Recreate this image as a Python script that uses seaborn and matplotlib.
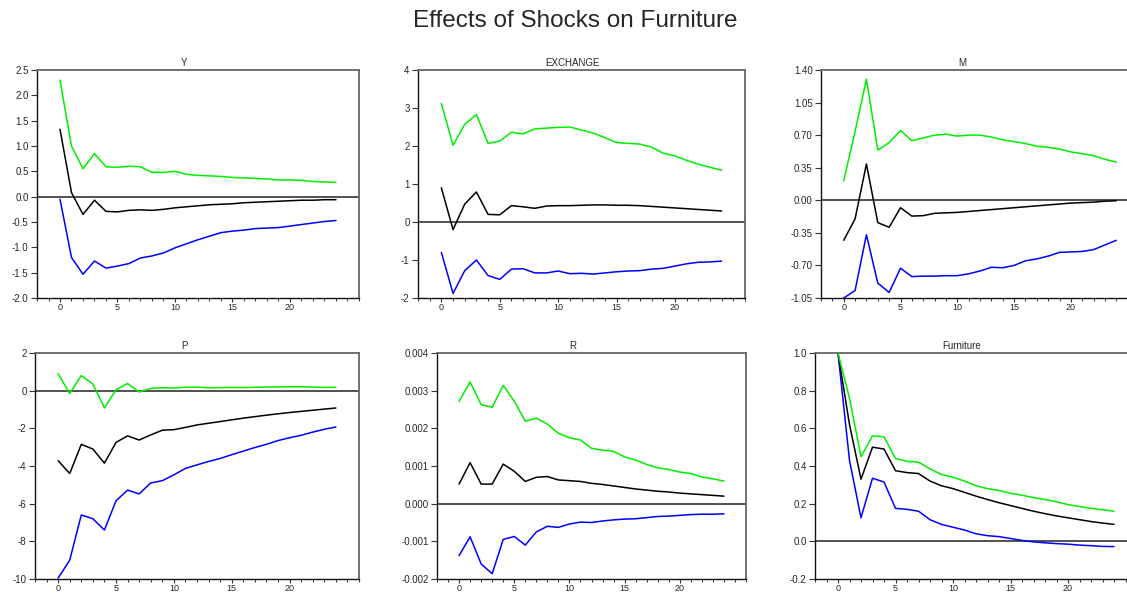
"""
Impulse responses of furniture to shocks, with lower / upper bands.
Writes out.png.
"""
import numpy as np
import pandas as pd
import matplotlib
matplotlib.use("Agg")
import matplotlib.pyplot as plt
from matplotlib.ticker import FuncFormatter, MultipleLocator
import seaborn as sns

STEPS = list(range(25))

Y_UPPER = [2.30, 1.00, 0.55, 0.85, 0.59, 0.58, 0.60, 0.59, 0.48, 0.48, 0.50, 0.44, 0.42,
           0.41, 0.40, 0.38, 0.37, 0.36, 0.35, 0.33, 0.33, 0.32, 0.30, 0.29, 0.28]
Y_MID = [1.33, 0.08, -0.35, -0.07, -0.29, -0.30, -0.27, -0.26, -0.27, -0.25, -0.22, -0.20, -0.18,
         -0.16, -0.15, -0.14, -0.12, -0.11, -0.10, -0.09, -0.08, -0.07, -0.07, -0.06, -0.06]
Y_LOWER = [-0.05, -1.20, -1.53, -1.27, -1.41, -1.37, -1.32, -1.21, -1.17, -1.11, -1.01, -0.93, -0.85,
           -0.78, -0.71, -0.68, -0.66, -0.63, -0.62, -0.61, -0.58, -0.55, -0.52, -0.49, -0.47]

EX_UPPER = [3.12, 2.02, 2.57, 2.83, 2.07, 2.13, 2.36, 2.32, 2.45, 2.47, 2.49, 2.50, 2.42,
            2.34, 2.22, 2.09, 2.07, 2.05, 1.97, 1.81, 1.74, 1.62, 1.52, 1.44, 1.36]
EX_MID = [0.90, -0.20, 0.47, 0.79, 0.20, 0.19, 0.43, 0.40, 0.36, 0.42, 0.43, 0.43, 0.44,
          0.45, 0.45, 0.44, 0.44, 0.43, 0.41, 0.39, 0.37, 0.35, 0.33, 0.31, 0.29]
EX_LOWER = [-0.80, -1.88, -1.28, -1.00, -1.41, -1.51, -1.24, -1.23, -1.34, -1.34, -1.29, -1.36, -1.35,
            -1.37, -1.34, -1.31, -1.29, -1.28, -1.24, -1.22, -1.16, -1.10, -1.06, -1.05, -1.03]

M_UPPER = [0.21, 0.74, 1.30, 0.54, 0.62, 0.75, 0.64, 0.67, 0.70, 0.71, 0.69, 0.70, 0.70,
           0.68, 0.65, 0.63, 0.61, 0.58, 0.57, 0.55, 0.52, 0.50, 0.48, 0.44, 0.41]
M_MID = [-0.43, -0.20, 0.39, -0.24, -0.29, -0.08, -0.17, -0.165, -0.14, -0.135, -0.13, -0.12, -0.11,
         -0.10, -0.09, -0.08, -0.07, -0.06, -0.05, -0.04, -0.03, -0.025, -0.02, -0.01, -0.005]
M_LOWER = [-1.05, -0.97, -0.37, -0.89, -0.99, -0.73, -0.82, -0.815, -0.815, -0.81, -0.81, -0.79, -0.76,
           -0.72, -0.725, -0.70, -0.65, -0.63, -0.60, -0.56, -0.555, -0.55, -0.53, -0.48, -0.43]

P_UPPER = [0.90, -0.15, 0.80, 0.35, -0.92, 0.05, 0.38, -0.07, 0.12, 0.16, 0.14, 0.18, 0.19,
           0.15, 0.16, 0.17, 0.16, 0.18, 0.19, 0.20, 0.21, 0.21, 0.19, 0.17, 0.18]
P_MID = [-3.72, -4.40, -2.85, -3.10, -3.85, -2.75, -2.40, -2.62, -2.35, -2.10, -2.07, -1.95, -1.82,
         -1.73, -1.64, -1.55, -1.46, -1.38, -1.30, -1.23, -1.16, -1.10, -1.04, -0.98, -0.92]
P_LOWER = [-9.95, -9.00, -6.60, -6.80, -7.40, -5.85, -5.28, -5.48, -4.90, -4.78, -4.47, -4.13, -3.94,
           -3.76, -3.60, -3.40, -3.21, -3.02, -2.85, -2.65, -2.50, -2.37, -2.20, -2.05, -1.93]

R_UPPER = [0.00272, 0.00323, 0.00263, 0.00256, 0.00314, 0.00272, 0.00219, 0.00227, 0.00211,
           0.00187, 0.00175, 0.00169, 0.00147, 0.00142, 0.00139, 0.00124, 0.00116, 0.00104,
           0.00095, 0.00091, 0.00084, 0.00080, 0.00071, 0.00066, 0.00060]
R_MID = [0.00052, 0.00109, 0.00052, 0.00052, 0.00105, 0.00086, 0.00059, 0.00070, 0.00072,
         0.00063, 0.00061, 0.00059, 0.00054, 0.00051, 0.00047, 0.00043, 0.00039, 0.00036,
         0.00033, 0.00031, 0.00028, 0.00026, 0.00024, 0.00022, 0.00020]
R_LOWER = [-0.00138, -0.00088, -0.00160, -0.00186, -0.00095, -0.00087, -0.00110, -0.00075, -0.00060,
           -0.00063, -0.00054, -0.00049, -0.00050, -0.00046, -0.00043, -0.00041, -0.00040, -0.00037,
           -0.00034, -0.00033, -0.00031, -0.00029, -0.00028, -0.00028, -0.00027]

F_UPPER = [1.00, 0.76, 0.45, 0.56, 0.555, 0.44, 0.425, 0.42, 0.385, 0.355, 0.34, 0.32, 0.295,
           0.28, 0.27, 0.255, 0.245, 0.232, 0.222, 0.21, 0.195, 0.185, 0.175, 0.168, 0.16]
F_MID = [1.00, 0.62, 0.33, 0.50, 0.49, 0.375, 0.365, 0.36, 0.32, 0.295, 0.28, 0.26, 0.24,
         0.222, 0.205, 0.19, 0.175, 0.16, 0.147, 0.135, 0.125, 0.115, 0.105, 0.097, 0.09]
F_LOWER = [1.00, 0.43, 0.125, 0.335, 0.315, 0.175, 0.17, 0.16, 0.115, 0.09, 0.075, 0.06, 0.04,
           0.03, 0.025, 0.015, 0.005, -0.003, -0.008, -0.012, -0.015, -0.02, -0.023, -0.027, -0.028]

PANEL_NAMES = ["Y", "EXCHANGE", "M", "P", "R", "Furniture"]

FIG_W, FIG_H = 1127, 594

# name -> (series, (left, right, top, bottom) px, yticks, decimals, title x px)
PANELS = {
    "Y": ((Y_LOWER, Y_MID, Y_UPPER), (37, 359, 70, 298),
          np.arange(-2.0, 2.51, 0.5), 1, 184),
    "EXCHANGE": ((EX_LOWER, EX_MID, EX_UPPER), (418, 745, 70, 298),
                 np.arange(-2, 5, 1), 0, 573),
    "M": ((M_LOWER, M_MID, M_UPPER), (821, 1139, 70, 298),
          np.arange(-1.05, 1.41, 0.35), 2, 962),
    "P": ((P_LOWER, P_MID, P_UPPER), (35, 359, 353, 579),
          np.arange(-10, 3, 2), 0, 184),
    "R": ((R_LOWER, R_MID, R_UPPER), (437, 746, 353, 579),
          np.arange(-0.002, 0.00401, 0.001), 3, 573),
    "Furniture": ((F_LOWER, F_MID, F_UPPER), (815, 1137, 353, 579),
                  np.arange(-0.2, 1.01, 0.2), 1, 962),
}

COLORS = {"lower": "#0000ff", "mid": "#000000", "upper": "#00ee00"}


def tick_fmt(decimals):
    def f(v, _pos):
        v = round(v, decimals) + 0.0
        return f"{v:.{decimals}f}"
    return FuncFormatter(f)


sns.set_style("white")
plt.rcParams["font.family"] = ["Liberation Sans", "DejaVu Sans"]

fig = plt.figure(figsize=(FIG_W / 100, FIG_H / 100), dpi=100)

for name in PANEL_NAMES:
    series, (l, r, t, b), yticks, dec, tx = PANELS[name]
    ax = fig.add_axes([l / FIG_W, 1 - b / FIG_H, (r - l) / FIG_W, (b - t) / FIG_H])
    df = pd.DataFrame({
        "step": STEPS * 3,
        "value": list(series[0]) + list(series[1]) + list(series[2]),
        "band": ["lower"] * 25 + ["mid"] * 25 + ["upper"] * 25,
    })
    ax.axhline(0, color="#222222", lw=1.1, zorder=1)
    sns.lineplot(data=df, x="step", y="value", hue="band", palette=COLORS,
                 legend=False, lw=1.1, ax=ax, zorder=3)
    yticks = np.round(yticks, 6)
    ax.set_xlim(-2, 26)
    ax.set_ylim(yticks[0], yticks[-1])
    ax.set_yticks(yticks)
    ax.yaxis.set_major_formatter(tick_fmt(dec))
    ax.set_xticks([0, 5, 10, 15, 20])
    ax.xaxis.set_minor_locator(MultipleLocator(1))
    ax.set_xlabel("")
    ax.set_ylabel("")
    ax.tick_params(axis="y", which="major", direction="out", length=4, width=0.8,
                   labelsize=7, color="#333333", pad=2, left=True)
    ax.tick_params(axis="x", which="major", direction="out", length=3, width=0.8,
                   labelsize=6.5, color="#333333", pad=0.5, bottom=True)
    ax.tick_params(axis="x", which="minor", direction="out", length=2, width=0.7,
                   color="#333333", bottom=True)
    for side in ["left", "bottom"]:
        ax.spines[side].set_color("#111111")
        ax.spines[side].set_linewidth(1.0)
    for side in ["top", "right"]:
        ax.spines[side].set_color("#666666")
        ax.spines[side].set_linewidth(1.3)
    fig.text(tx / FIG_W, 1 - (t - 2) / FIG_H, name, ha="center", va="bottom", fontsize=7)

fig.text(575 / FIG_W, 1 - 21 / FIG_H, "Effects of Shocks on Furniture",
         ha="center", va="center", fontsize=17.5)

fig.savefig("out.png", dpi=100)
